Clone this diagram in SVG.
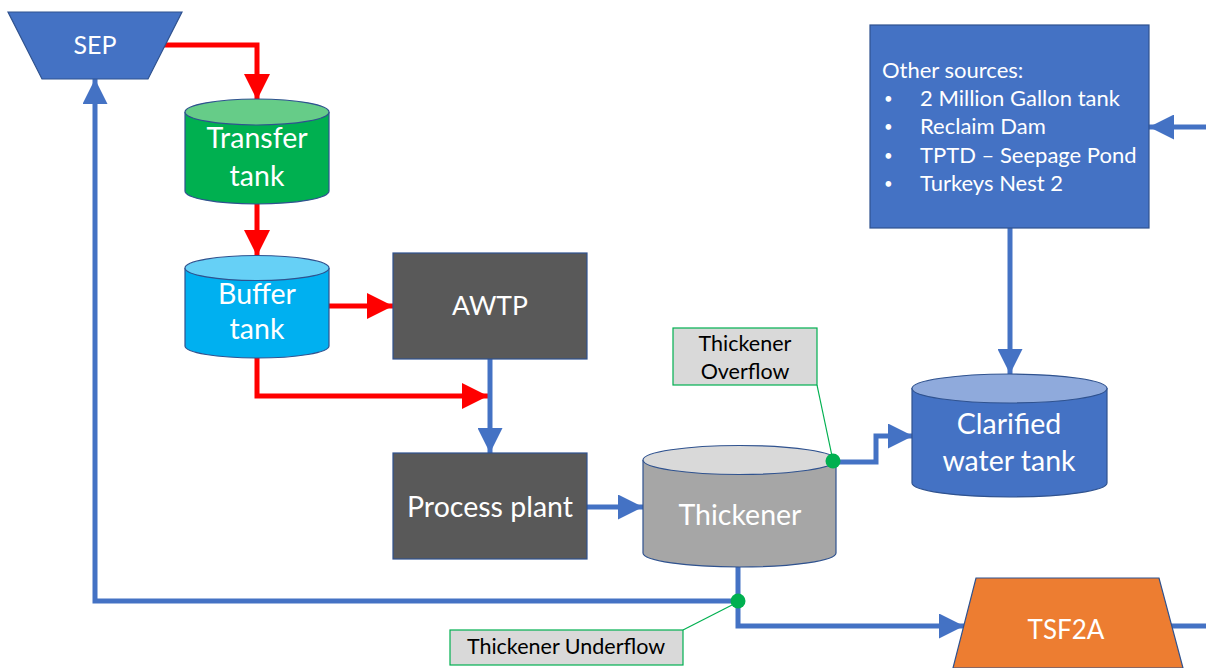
<svg xmlns="http://www.w3.org/2000/svg" width="1206" height="668" viewBox="0 0 1206 668">
  <style>
    .lbl { font-family: Lato, "Open Sans", "Liberation Sans", sans-serif; fill: #FFFFFF; text-anchor: middle; }
    .big { font-size: 28.5px; }
    .mid { font-size: 25px; }
    .src { font-family: Lato, "Open Sans", "Liberation Sans", sans-serif; fill: #FFFFFF; font-size: 22px; }
    .dot { font-size: 15px; }
    .call { font-family: Lato, "Open Sans", "Liberation Sans", sans-serif; fill: #000000; font-size: 21.5px; text-anchor: middle; }
    .edge { stroke: #2F528F; stroke-width: 1.2; }
    .red { fill: none; stroke: #FF0000; stroke-width: 5; }
    .blue { fill: none; stroke: #4472C4; stroke-width: 5; }
    .box { fill: #595959; stroke: #2F528F; stroke-width: 1.2; }
    .callbox { fill: #D9D9D9; stroke: #00B050; stroke-width: 1.2; }
    .leader { stroke: #00B050; stroke-width: 1.2; fill: none; }
  </style>
  <defs>
    <marker id="headRed" viewBox="0 0 10 10" refX="10" refY="5" markerUnits="userSpaceOnUse" markerWidth="27" markerHeight="26" orient="auto">
      <path d="M0,0 L10,5 L0,10 Z" fill="#FF0000"/>
    </marker>
    <marker id="headBlue" viewBox="0 0 10 10" refX="10" refY="5" markerUnits="userSpaceOnUse" markerWidth="26" markerHeight="25" orient="auto">
      <path d="M0,0 L10,5 L0,10 Z" fill="#4472C4"/>
    </marker>
  </defs>

  <rect width="1206" height="668" fill="#FFFFFF"/>

  <!-- flow lines -->
  <g id="connectors">
    <path class="red" d="M163,45 H257 V100" marker-end="url(#headRed)"/>
    <path class="red" d="M257,204 V256" marker-end="url(#headRed)"/>
    <path class="red" d="M329,306 H393" marker-end="url(#headRed)"/>
    <path class="red" d="M257,358 V396 H488" marker-end="url(#headRed)"/>
    <path class="blue" d="M490,359 V453" marker-end="url(#headBlue)"/>
    <path class="blue" d="M587,507 H643" marker-end="url(#headBlue)"/>
    <path class="blue" d="M833,462 H876 V436 H913" marker-end="url(#headBlue)"/>
    <path class="blue" d="M1206,127 H1149" marker-end="url(#headBlue)"/>
    <path class="blue" d="M1010,228 V374" marker-end="url(#headBlue)"/>
    <path class="blue" d="M738,567 V626 H964" marker-end="url(#headBlue)"/>
    <path class="blue" d="M738,601 H95 V79" marker-end="url(#headBlue)"/>
    <path class="blue" d="M1168,626 H1206"/>
  </g>

  <g id="sep">
    <polygon points="8,12 182,12 148,79 42,79" fill="#4472C4" class="edge"/>
    <text class="lbl mid" x="95" y="54">SEP</text>
  </g>

  <g id="transfer-tank">
    <path d="M185,112 V191 A72,13 0 0 0 329,191 V112" fill="#00B050" class="edge"/>
    <ellipse cx="257" cy="112" rx="72" ry="13" fill="#66CC88" class="edge"/>
    <text class="lbl big" x="257" y="148">Transfer</text>
    <text class="lbl big" x="257" y="186">tank</text>
  </g>

  <g id="buffer-tank">
    <path d="M185,268 V346 A72,12 0 0 0 329,346 V268" fill="#00B0F0" class="edge"/>
    <ellipse cx="257" cy="268" rx="72" ry="12.5" fill="#66D0F6" class="edge"/>
    <text class="lbl big" x="257" y="304">Buffer</text>
    <text class="lbl big" x="257" y="339">tank</text>
  </g>

  <g id="awtp">
    <rect class="box" x="393" y="253" width="194" height="106"/>
    <text class="lbl" x="490" y="315" font-size="26.5">AWTP</text>
  </g>

  <g id="process-plant">
    <rect class="box" x="393" y="453" width="194" height="106"/>
    <text class="lbl big" x="490" y="517">Process plant</text>
  </g>

  <g id="thickener">
    <path d="M643,460 V553 A96.5,14 0 0 0 836,553 V460" fill="#A6A6A6" class="edge"/>
    <ellipse cx="739.5" cy="460" rx="96.5" ry="14.5" fill="#D9D9D9" class="edge"/>
    <text class="lbl big" x="740" y="525" fill="#F2F2F2">Thickener</text>
  </g>

  <g id="clarified-water-tank">
    <path d="M912,388 V483 A97.5,14 0 0 0 1107,483 V388" fill="#4472C4" class="edge"/>
    <ellipse cx="1009.5" cy="388.5" rx="97.5" ry="14.5" fill="#8FAADC" class="edge"/>
    <text class="lbl big" x="1009" y="434">Clarified</text>
    <text class="lbl big" x="1009" y="471">water tank</text>
  </g>

  <g id="other-sources">
    <rect x="870" y="25" width="279" height="203" fill="#4472C4" class="edge"/>
    <text class="src" x="882" y="78">Other sources:</text>
    <text class="src dot" x="884" y="104">•</text>
    <text class="src" x="920" y="106">2 Million Gallon tank</text>
    <text class="src dot" x="884" y="132">•</text>
    <text class="src" x="920" y="134">Reclaim Dam</text>
    <text class="src dot" x="884" y="161">•</text>
    <text class="src" x="920" y="163">TPTD – Seepage Pond</text>
    <text class="src dot" x="884" y="189">•</text>
    <text class="src" x="920" y="191">Turkeys Nest 2</text>
  </g>

  <g id="tsf2a">
    <polygon points="976,578 1159,578 1183,668 953,668" fill="#ED7D31" class="edge"/>
    <text class="lbl" x="1066" y="639" font-size="26">TSF2A</text>
  </g>

  <g id="overflow-callout">
    <line class="leader" x1="817" y1="385" x2="832" y2="456"/>
    <rect class="callbox" x="673" y="328" width="144" height="57"/>
    <text class="call" x="745" y="351">Thickener</text>
    <text class="call" x="745" y="379">Overflow</text>
    <circle cx="833" cy="461" r="7.5" fill="#00B050"/>
  </g>

  <g id="underflow-callout">
    <line class="leader" x1="683" y1="630" x2="734" y2="604"/>
    <rect class="callbox" x="450" y="630" width="233" height="35"/>
    <text class="call" x="566" y="654">Thickener Underflow</text>
    <circle cx="738" cy="601" r="7.5" fill="#00B050"/>
  </g>
</svg>
